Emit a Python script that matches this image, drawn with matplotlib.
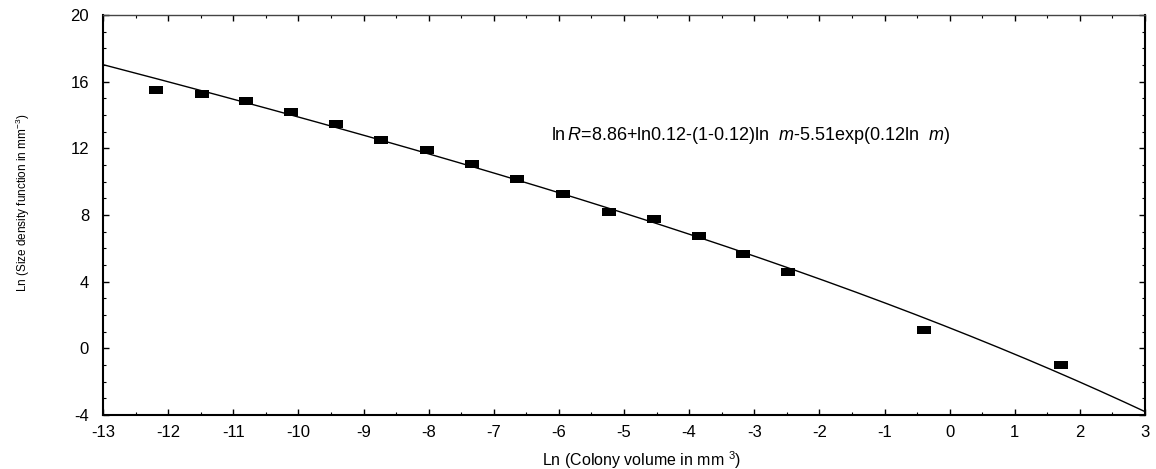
import numpy as np
import matplotlib
matplotlib.use('Agg')
import matplotlib.pyplot as plt
from matplotlib.ticker import MultipleLocator

plt.rcParams['font.family'] = ['Liberation Sans', 'DejaVu Sans']
plt.rcParams['mathtext.fontset'] = 'custom'
plt.rcParams['mathtext.rm'] = 'Liberation Sans'
plt.rcParams['mathtext.it'] = 'Liberation Sans:italic'
plt.rcParams['axes.unicode_minus'] = False

# observed points (ln colony volume, ln size density)
ln_volume = [-12.18, -11.48, -10.80, -10.12, -9.42, -8.73, -8.02, -7.33, -6.64,
             -5.93, -5.23, -4.54, -3.85, -3.17, -2.48, -0.39, 1.71]
ln_density = [15.5, 15.26, 14.84, 14.16, 13.48, 12.5, 11.9, 11.04, 10.18,
              9.26, 8.18, 7.78, 6.74, 5.66, 4.56, 1.12, -0.98]

# fitted model parameters, as printed on the chart
a_fit = 8.86
b_fit = 0.12
c_fit = 5.51
x_range = [-13, 3]

x_tick_vals = list(range(-13, 4))
y_tick_vals = [-4, 0, 4, 8, 12, 16, 20]

fig = plt.figure(figsize=(11.56, 4.69), dpi=100)
fig.subplots_adjust(left=103/1156, right=1145/1156, top=1-15/469, bottom=1-415/469)
ax = fig.add_subplot(111)

xs = np.linspace(x_range[0], x_range[1], 300)
ys = a_fit + np.log(b_fit) - (1 - b_fit) * xs - c_fit * np.exp(b_fit * xs)
ax.plot(xs, ys, color='black', lw=1.0)

rect = [(-1, -0.6), (1, -0.6), (1, 0.6), (-1, 0.6), (-1, -0.6)]
ax.plot(ln_volume, ln_density, linestyle='none', marker=rect, markersize=10,
        color='black', markeredgewidth=0)

ax.text(-3.05, 12.8, r'ln$\,R$=8.86+ln0.12-(1-0.12)ln  $m$-5.51exp(0.12ln  $m$)',
        fontsize=13, va='center', ha='center')

ax.set_xlim(-13, 3)
ax.set_ylim(-4, 20)
ax.set_xticks(x_tick_vals)
ax.set_yticks(y_tick_vals)
ax.xaxis.set_minor_locator(MultipleLocator(0.5))
ax.yaxis.set_minor_locator(MultipleLocator(1))
ax.tick_params(which='both', direction='in', top=True, right=True, labelsize=12)
ax.tick_params(which='major', length=4, width=1)
ax.tick_params(which='minor', length=2, width=0.8)
ax.tick_params(axis='y', pad=10)
ax.tick_params(axis='x', pad=7)
for side in ['left', 'bottom', 'right']:
    ax.spines[side].set_linewidth(1.5)
ax.spines['top'].set_linewidth(1.0)
ax.spines['top'].set_color('#444444')

ax.set_xlabel('Ln (Colony volume in mm $^{3}$)', fontsize=11.5)
ax.xaxis.set_label_coords(0.517, -0.085)
ax.set_ylabel('Ln (Size density function in mm$^{-3}$)', fontsize=8.5)
ax.yaxis.set_label_coords(-0.068, 0.53)

plt.savefig('out.png', dpi=100)
